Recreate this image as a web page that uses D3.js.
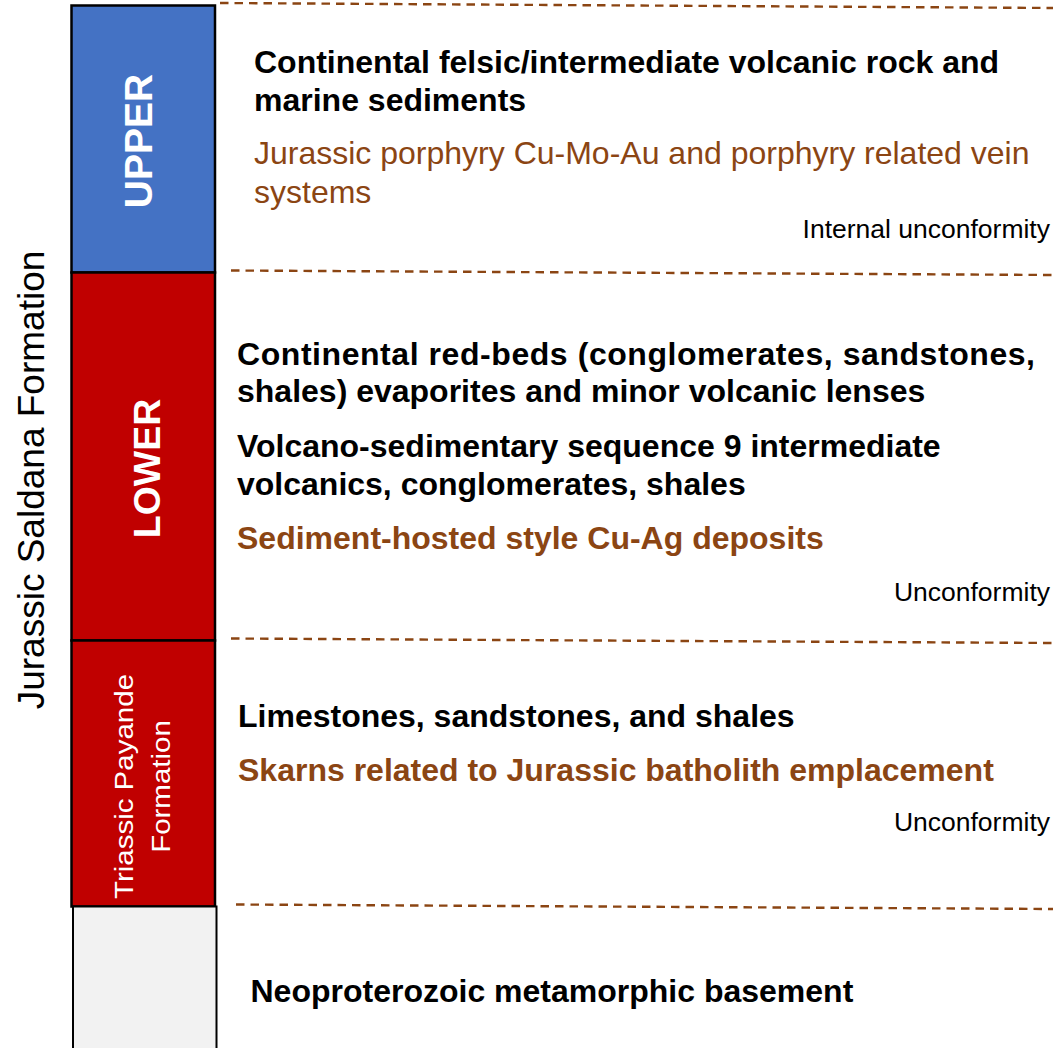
<!DOCTYPE html>
<html>
<head>
<meta charset="utf-8">
<script src="https://cdn.jsdelivr.net/npm/d3@7"></script>
<style>
  html, body { margin: 0; padding: 0; background: #ffffff; }
  svg { display: block; font-family: "Liberation Sans", Arial, sans-serif; }
</style>
</head>
<body>
<div id="chart"></div>
<script>
// ---- Data ----
const unitNames = ["UPPER", "LOWER", "Triassic Payande|Formation", ""];
const unitThickness = [267, 368, 266, 160];           // relative column thickness
const unitColors = ["#4472C4", "#C00000", "#C00000", "#F2F2F2"];
const unitLabelBold = [true, true, false, false];

const contactLabels = ["", "Internal unconformity", "Unconformity", "Unconformity"];

// description lines per unit: [text, style] style: b = bold black, r = regular brown, rb = bold brown
const unitDescriptions = [
  [["Continental felsic/intermediate volcanic rock and", "b"],
   ["marine sediments", "b"],
   ["Jurassic porphyry Cu-Mo-Au and porphyry related vein", "r"],
   ["systems", "r"]],
  [["Continental red-beds (conglomerates, sandstones,", "b"],
   ["shales) evaporites and minor volcanic lenses", "b"],
   ["Volcano-sedimentary sequence 9 intermediate", "b"],
   ["volcanics, conglomerates, shales", "b"],
   ["Sediment-hosted style Cu-Ag deposits", "rb"]],
  [["Limestones, sandstones, and shales", "b"],
   ["Skarns related to Jurassic batholith emplacement", "rb"]],
  [["Neoproterozoic metamorphic basement", "b"]]
];
const groupLabel = "Jurassic Saldana Formation";

// ---- Layout ----
const W = 1053, H = 1048;
const svg = d3.select("#chart").append("svg").attr("width", W).attr("height", H);

const bounds = [0];
unitThickness.forEach((t, i) => bounds.push(bounds[i] + t));
const y = d3.scaleLinear().domain([0, d3.sum(unitThickness)]).range([5.5, 5.5 + d3.sum(unitThickness)]);

const colX = 71.5, colW = 143.5;
const brown = "#8B4513";

// column boxes
svg.selectAll("rect.unit").data(unitNames).join("rect")
  .attr("class", "unit")
  .attr("x", (d, i) => colX + (i === 3 ? 1.5 : 0))
  .attr("y", (d, i) => y(bounds[i]))
  .attr("width", colW)
  .attr("height", (d, i) => y(bounds[i + 1]) - y(bounds[i]))
  .attr("fill", (d, i) => unitColors[i])
  .attr("stroke", "#000")
  .attr("stroke-width", (d, i) => i === 3 ? 2 : 2.5);

// unit labels (rotated)
const labelCfg = [
  { x: 152, size: 39, dy: 2 },
  { x: 160, size: 37.5, dy: 12 },
  { x: 133, size: 29.5, x2: 170, squish: 0.86, dy: 13 },
  null
];
unitNames.forEach((name, i) => {
  if (!name) return;
  const cfg = labelCfg[i];
  const cy = (y(bounds[i]) + y(bounds[i + 1])) / 2 + cfg.dy;
  const lines = name.split("|");
  lines.forEach((ln, j) => {
    const lx = j === 0 ? cfg.x : cfg.x2;
    svg.append("text")
      .attr("transform", `translate(${lx},${cy}) rotate(-90)` + (cfg.squish ? ` scale(1,${cfg.squish})` : ""))
      .attr("text-anchor", "middle")
      .attr("fill", "#fff")
      .attr("font-size", cfg.size)
      .attr("font-weight", unitLabelBold[i] ? "bold" : "normal")
      .text(ln);
  });
});

// group label
svg.append("text")
  .attr("transform", `translate(44,480) rotate(-90)`)
  .attr("text-anchor", "middle")
  .attr("font-size", 37)
  .attr("fill", "#000")
  .text(groupLabel);

// dashed contact lines (at top of each unit)
const lineStartX = [220, 231, 231, 236];
svg.selectAll("line.contact").data(unitNames).join("line")
  .attr("class", "contact")
  .attr("x1", (d, i) => lineStartX[i])
  .attr("x2", W)
  .attr("y1", (d, i) => y(bounds[i]) - (i === 0 ? 2.5 : 2))
  .attr("y2", (d, i) => y(bounds[i]) + 2.5)
  .attr("stroke", brown)
  .attr("stroke-width", 2.4)
  .attr("stroke-dasharray", "8.5,6");

// contact labels (placed just above the contact line)
svg.selectAll("text.contact").data(contactLabels).join("text")
  .attr("class", "contact")
  .attr("x", 1050)
  .attr("y", (d, i) => y(bounds[i]) - (i === 1 ? 35 : i === 2 ? 40 : 76))
  .attr("text-anchor", "end")
  .attr("font-size", 26.5)
  .attr("fill", "#000")
  .text(d => d);

// description text
const descX = [254, 237, 238, 250.5];
const descBaselines = [
  [73, 111, 164, 203],
  [365, 402, 457, 495, 549],
  [727, 781],
  [1002]
];
unitDescriptions.forEach((lines, i) => {
  svg.append("g").selectAll("text").data(lines).join("text")
    .attr("x", descX[i])
    .attr("y", (d, j) => descBaselines[i][j])
    .attr("font-size", 32)
    .attr("font-weight", d => d[1] === "r" ? "normal" : "bold")
    .attr("fill", d => d[1] === "b" ? "#000" : brown)
    .each(function (d, j) {
      // first line of the red-beds paragraph is justified wider in the original
      if (i === 1 && j === 0) {
        d3.select(this).attr("textLength", 798).attr("lengthAdjust", "spacing");
      }
    })
    .text(d => d[0]);
});
</script>
</body>
</html>
